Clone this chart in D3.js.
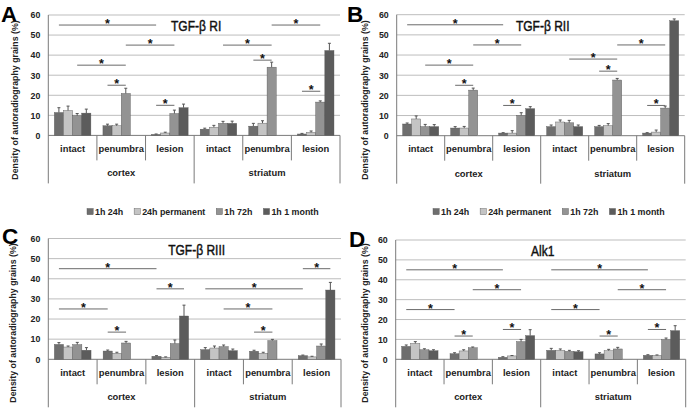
<!DOCTYPE html>
<html><head><meta charset="utf-8">
<script src="https://cdn.jsdelivr.net/npm/d3@7"></script>
<style>
body{margin:0;background:#fff;}
svg{display:block;}
text{font-family:"Liberation Sans",Arial,sans-serif;font-weight:bold;fill:#222;}
</style></head>
<body>
<svg id="chart" width="689" height="411"></svg>
<script>
// ---- data ----
const groups = ["intact","penumbra","lesion","intact","penumbra","lesion"];
const regions = ["cortex","striatum"];
const series = ["1h 24h","24h permanent","1h 72h","1h 1 month"];
const yTicks = [0,10,20,30,40,50,60];
const titles = ["TGF-β RI","TGF-β RII","TGF-β RIII","Alk1"];
const letters = ["A","B","C","D"];

const A_vals = [[11.4,12.4,9.8,11.1],[4.8,4.8,20.9,null],[0.5,1.2,10.9,13.8],[3.1,4.1,6.0,6.0],[4.6,6.1,34.0,null],[0.7,1.5,16.6,42.3]];
const A_err  = [[2.4,2.2,1.1,2.0],[0.8,0.8,2.6,null],[0.2,0.4,1.7,1.8],[0.5,0.9,1.0,1.1],[1.4,1.2,2.5,null],[0.3,0.7,0.6,3.6]];
const B_vals = [[5.8,8.3,4.5,4.5],[3.8,3.8,22.6,null],[1.3,1.3,10.1,13.4],[4.5,6.8,6.4,4.5],[4.5,5.0,27.6,null],[1.3,1.8,13.7,57.0]];
const B_err  = [[0.5,1.5,1.1,1.0],[0.7,0.8,1.0,null],[0.2,1.2,1.3,1.0],[0.8,1.0,1.2,0.8],[0.6,1.0,0.8,null],[0.2,1.0,1.0,0.9]];
const C_vals = [[7.4,6.1,7.3,4.5],[4.1,3.0,8.1,null],[1.5,1.0,7.8,21.5],[4.8,5.6,6.3,4.3],[4.0,3.0,9.3,null],[1.8,1.2,6.6,34.4]];
const C_err  = [[0.9,0.5,1.1,1.3],[0.5,0.5,0.8,null],[0.3,0.2,1.8,5.4],[1.0,1.0,0.8,0.8],[0.5,0.5,0.6,null],[0.3,0.3,1.0,3.8]];
const D_vals = [[6.5,8.0,4.8,4.3],[2.8,4.2,5.8,null],[1.0,1.7,8.9,11.9],[4.5,4.5,4.0,3.8],[2.7,4.3,5.2,null],[2.0,2.0,9.9,14.4]];
const D_err  = [[0.7,0.9,0.5,0.5],[0.5,0.6,0.4,null],[0.3,0.2,1.1,3.0],[1.0,0.7,0.5,0.5],[0.6,0.7,0.8,null],[0.3,0.2,0.8,2.5]];

// significance brackets: [group1, series1, group2, series2, level]
const A_sig = [[0,0,2,0,55],[1,2,2,2,45],[0,2,1,2,35],[1,0,1,2,25],[2,0,2,2,15],[3,2,4,2,45],[4,0,4,2,37.5],[4,2,5,2,55],[5,0,5,2,22]];
const B_sig = [[0,0,2,0,55],[1,2,2,2,45],[0,2,1,2,35],[1,0,1,2,25],[2,0,2,2,15],[3,2,4,2,38],[4,0,4,2,32],[4,2,5,2,45],[5,0,5,2,15]];
const C_sig = [[0,0,2,0,45],[2,0,2,3,35],[0,0,1,0,25],[1,0,1,2,13.5],[3,0,5,0,35],[3,2,4,2,25],[4,0,4,2,13.5],[5,0,5,3,45]];
const D_sig = [[0,0,2,0,45],[1,2,2,2,35],[0,0,1,0,25],[2,0,2,2,15],[1,0,1,2,11.7],[3,0,5,0,45],[4,2,5,2,35],[3,0,4,0,25],[5,0,5,2,15],[4,0,4,2,11.7]];

// ---- layout / style ----
const colors = ["#6e6e6e","#c4c4c4","#939393","#5c5c5c"];
const layout = [
  {x0:48.3, x1:340,   yTop:15,    yBot:135.4, lx:1,   ly:21.7,  ytx:14.5, yty:100},
  {x0:396.7,x1:684.7, yTop:14.7,  yBot:135.7, lx:347, ly:21.5,  ytx:365,  yty:100},
  {x0:48.3, x1:341,   yTop:238.5, yBot:359.3, lx:2,   ly:243.5, ytx:13,   yty:323},
  {x0:395.7,x1:685.7, yTop:240,   yBot:359.3, lx:349, ly:246.7, ytx:365,  yty:323}
];
const panelData = [
  {vals:A_vals, errs:A_err, sig:A_sig},
  {vals:B_vals, errs:B_err, sig:B_sig},
  {vals:C_vals, errs:C_err, sig:C_sig},
  {vals:D_vals, errs:D_err, sig:D_sig}
];

const svg = d3.select("#chart");

panelData.forEach((pd, pi) => {
  const L = layout[pi];
  const g = svg.append("g");
  const y = d3.scaleLinear().domain([0,60]).range([L.yBot, L.yTop]);
  const gx = d3.scaleBand().domain(d3.range(groups.length)).range([L.x0, L.x1]).padding(0);
  const gw = gx.bandwidth();
  const sx = d3.scaleBand().domain(d3.range(series.length)).range([gw*0.124, gw*0.876]).padding(0);

  // gridlines
  g.append("g").selectAll("line").data(yTicks.filter(t=>t>0)).join("line")
    .attr("x1", L.x0).attr("x2", L.x1)
    .attr("y1", d=>y(d)).attr("y2", d=>y(d))
    .attr("stroke", "#bdbdbd").attr("stroke-width", 1);

  // y axis
  const yAxis = d3.axisLeft(y).tickValues(yTicks).tickSize(0).tickPadding(8);
  const ya = g.append("g").attr("transform", `translate(${L.x0},0)`).call(yAxis);
  ya.select(".domain").remove();
  ya.selectAll("text").attr("font-size", 8.8).attr("fill","#222")
    .style("font-weight","bold").style("font-family","'Liberation Sans',Arial,sans-serif");
  g.append("line").attr("x1",L.x0).attr("x2",L.x0).attr("y1",L.yTop).attr("y2",L.yBot+48)
    .attr("stroke","#7a7a7a").attr("stroke-width",1);
  g.append("line").attr("x1",L.x0).attr("x2",L.x1).attr("y1",L.yBot).attr("y2",L.yBot)
    .attr("stroke","#7a7a7a").attr("stroke-width",1);

  // category separators
  d3.range(1, groups.length+1).forEach(i => {
    const xx = i < groups.length ? gx(i) : L.x1;
    const long = (i % 3 === 0);
    g.append("line").attr("x1",xx).attr("x2",xx).attr("y1",L.yBot).attr("y2",L.yBot + (long?48:25))
      .attr("stroke","#7a7a7a").attr("stroke-width",1);
  });
  // category labels
  g.append("g").selectAll("text").data(groups).join("text")
    .attr("x",(d,i)=>gx(i)+gw/2).attr("y",L.yBot+16.5)
    .attr("text-anchor","middle").attr("font-size",9.4).text(d=>d);
  // region labels
  const rx = d3.scaleBand().domain(regions).range([L.x0,L.x1]);
  g.append("g").selectAll("text").data(regions).join("text")
    .attr("x",d=>rx(d)+rx.bandwidth()/2).attr("y",L.yBot+41)
    .attr("text-anchor","middle").attr("font-size",9.4).text(d=>d);

  // bars
  const flat = [];
  pd.vals.forEach((row, gi) => row.forEach((v, si) => {
    if (v !== null) flat.push({gi, si, v, e: pd.errs[gi][si]});
  }));
  g.append("g").selectAll("rect").data(flat).join("rect")
    .attr("x", d=>gx(d.gi)+sx(d.si)).attr("width", sx.bandwidth())
    .attr("y", d=>y(d.v)).attr("height", d=>y(0)-y(d.v))
    .attr("fill", d=>colors[d.si]).attr("stroke","#555").attr("stroke-width",0.4);
  // error bars
  const eb = g.append("g").attr("stroke","#555").attr("stroke-width",1);
  flat.forEach(d => {
    const cx = gx(d.gi)+sx(d.si)+sx.bandwidth()/2;
    eb.append("line").attr("x1",cx).attr("x2",cx).attr("y1",y(d.v)).attr("y2",y(d.v+d.e));
    eb.append("line").attr("x1",cx-1.5).attr("x2",cx+1.5).attr("y1",y(d.v+d.e)).attr("y2",y(d.v+d.e));
  });

  // significance brackets
  const sg = g.append("g");
  pd.sig.forEach(s => {
    const xa = gx(s[0])+sx(s[1])+sx.bandwidth()/2;
    const xb = gx(s[2])+sx(s[3])+sx.bandwidth()/2;
    const yy = y(s[4]);
    sg.append("line").attr("x1",xa).attr("x2",xb).attr("y1",yy).attr("y2",yy)
      .attr("stroke","#6a6a6a").attr("stroke-width",1);
    sg.append("text").attr("x",(xa+xb)/2).attr("y",yy+3).attr("text-anchor","middle")
      .attr("font-size",12.5).style("fill","#111").text("*");
  });

  // title (condensed look)
  const tx = (L.x0+L.x1)/2+2, ty = L.yTop+16;
  g.append("text").attr("transform",`translate(${tx},${ty}) scale(0.8,1)`)
    .attr("text-anchor","middle").attr("font-size",15)
    .style("font-weight","normal").style("fill","#111")
    .style("stroke","#111").style("stroke-width",0.45).text(titles[pi]);

  // panel letter
  g.append("text").attr("x",L.lx).attr("y",L.ly).attr("font-size",22.5).style("fill","#000")
    .text(letters[pi]);

  // y title
  g.append("text").attr("transform",`translate(${L.ytx+3},${L.yty}) rotate(-90)`)
    .attr("text-anchor","middle").attr("font-size",8.8).text("Density of autoradiography grains (%)");
});

// legends
[{x:87,y:212},{x:433,y:212}].forEach(pos => {
  const lg = svg.append("g").attr("transform",`translate(${pos.x},${pos.y})`);
  let cx = 0;
  series.forEach((s,i) => {
    lg.append("rect").attr("x",cx).attr("y",-3.5).attr("width",6.2).attr("height",6.2)
      .attr("fill",colors[i]).attr("stroke","#555").attr("stroke-width",0.4);
    const t = lg.append("text").attr("x",cx+8).attr("y",3).attr("font-size",8.9).text(s);
    cx += 8 + t.node().getComputedTextLength() + 11;
  });
});
</script>
</body></html>
